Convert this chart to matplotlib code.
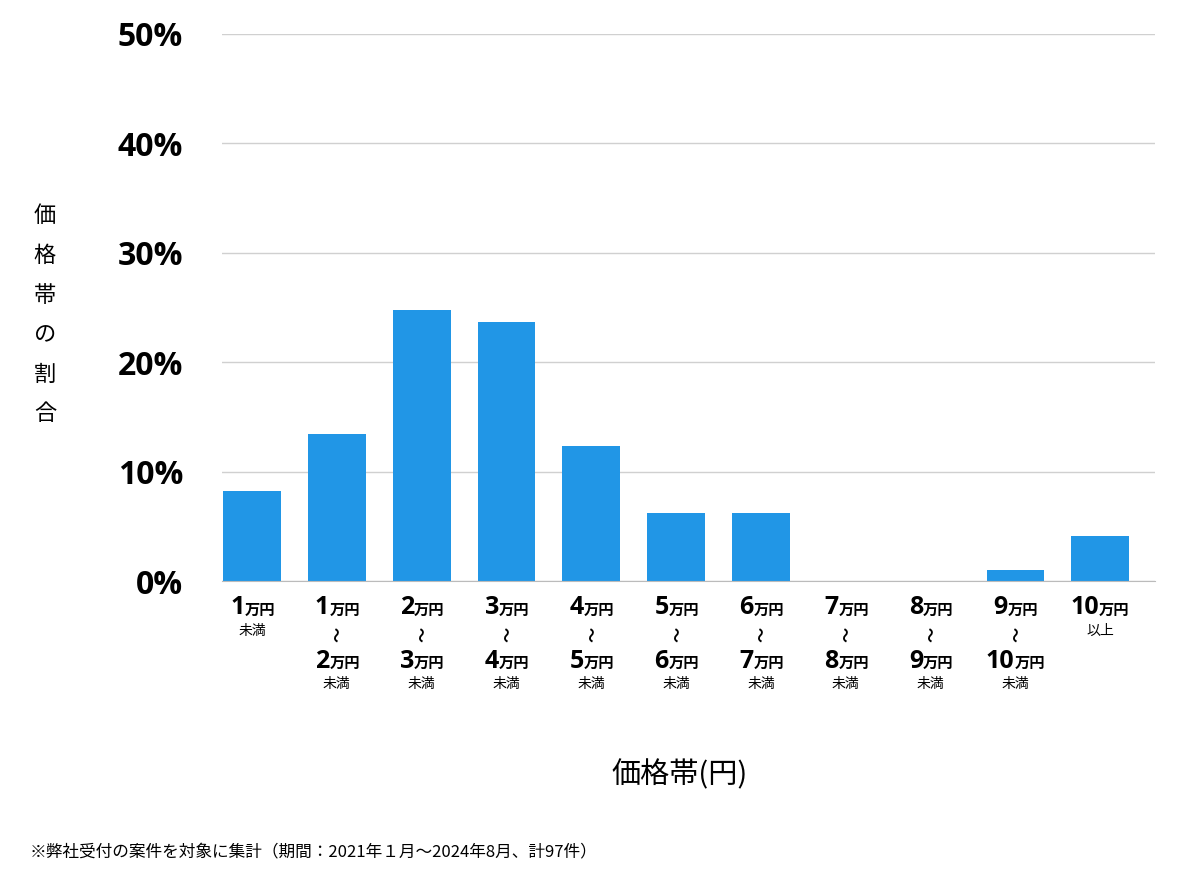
import matplotlib
matplotlib.use("Agg")
import matplotlib.pyplot as plt
import matplotlib.transforms as mtransforms

plt.rcParams["font.family"] = "Noto Sans CJK JP"

categories = ["1-", "1-2", "2-3", "3-4", "4-5", "5-6", "6-7", "7-8", "8-9", "9-10", "10+"]
label_from = ["1", "1", "2", "3", "4", "5", "6", "7", "8", "9", "10"]
label_to = [None, "2", "3", "4", "5", "6", "7", "8", "9", "10", None]
values = [8.25, 13.40, 24.74, 23.71, 12.37, 6.19, 6.19, 0, 0, 1.03, 4.12]
yticks = [0, 10, 20, 30, 40, 50]

fig = plt.figure(figsize=(12, 8.74), dpi=100)
ax = fig.add_axes([222/1200, 1-581/874, (1155-222)/1200, (581-34)/874])
x = list(range(len(categories)))
ax.bar(x, values, width=0.68, color="#2196e6", zorder=2)
ax.set_xlim(-0.354, len(categories) - 0.354)
ax.set_ylim(0, 50)
ax.set_yticks(yticks)
ax.set_yticklabels([f"{t}%" for t in yticks], fontsize=23, fontweight="bold", fontfamily="Open Sans")
ax.tick_params(axis="y", length=0, pad=28)
ax.set_xticks([])
ax.grid(axis="y", color="#d0d0d0", lw=1, zorder=0)
for s in ["top", "right", "left"]:
    ax.spines[s].set_visible(False)
ax.spines["bottom"].set_color("#bbbbbb")

base = mtransforms.blended_transform_factory(ax.transData, fig.transFigure)

def price(i, num, ypx):
    wn = 13 * len(num); wu = 28
    dx = (wn - wu) / 2
    y = 1 - ypx / 874
    t = mtransforms.offset_copy(base, fig=fig, x=dx, y=0, units="dots")
    ax.text(i, y, num, transform=t, ha="right", va="center", fontsize=18,
            fontweight="bold", fontfamily="Open Sans", clip_on=False)
    ax.text(i, y - 2/874, "万円", transform=t, ha="left", va="center", fontsize=11,
            fontweight="bold", clip_on=False)

for i in x:
    price(i, label_from[i], 608)
    if label_to[i] is None:
        sub = "未満" if i == 0 else "以上"
        ax.text(i, 1 - 631/874, sub, transform=base, ha="center", va="center", fontsize=10, clip_on=False)
    else:
        ax.text(i, 1 - 634/874, "〜", transform=base, ha="center", va="center", fontsize=11,
                fontweight="bold", rotation=90, clip_on=False)
        price(i, label_to[i], 661)
        ax.text(i, 1 - 684/874, "未満", transform=base, ha="center", va="center", fontsize=10, clip_on=False)

for k, ch in enumerate("価格帯の割合"):
    fig.text(45/1200, 1 - (216 + k*39.5)/874, ch, ha="center", va="center", fontsize=16)
fig.text(680/1200, 1 - 775/874, "価格帯(円)", ha="center", va="center", fontsize=21)
fig.text(30/1200, 1 - 852/874, "※弊社受付の案件を対象に集計（期間：2021年１月〜2024年8月、計97件）",
         ha="left", va="center", fontsize=12)

fig.savefig("out.png", dpi=100)
